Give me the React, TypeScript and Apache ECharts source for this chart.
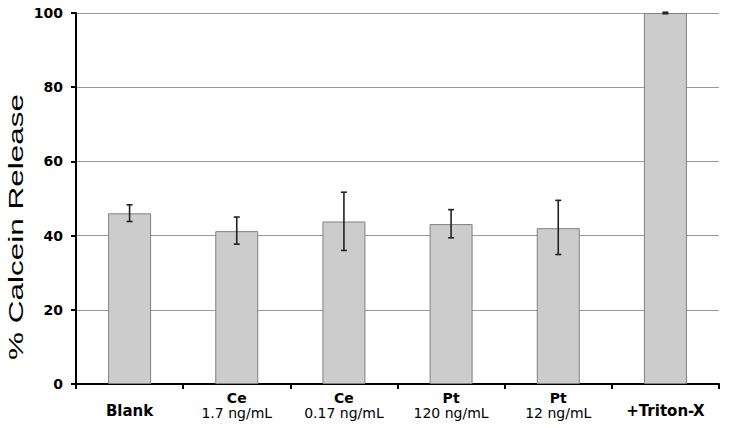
import React, { useEffect, useRef } from "react";
import * as echarts from "echarts";

const categories = ["Blank", "Ce|1.7 ng/mL", "Ce|0.17 ng/mL", "Pt|120 ng/mL", "Pt|12 ng/mL", "+Triton-X"];
const means = [46.0, 41.2, 43.8, 43.1, 42.0, 100];
const errLow = [43.8, 37.7, 36.0, 39.4, 34.9, 99.8];
const errHigh = [48.3, 45.0, 51.7, 47.0, 49.5, 100.2];
const yTicks = [0, 20, 40, 60, 80, 100];

export default function App() {
  const ref = useRef<HTMLDivElement>(null);
  useEffect(() => {
    document.body.style.margin = "0";
    const chart = echarts.init(ref.current!, null, { renderer: "svg" });
    const errData = categories.map((_, i) => [i, errLow[i], errHigh[i]]);
    chart.setOption({
      animation: false,
      backgroundColor: "#ffffff",
      grid: { left: 76, right: 10, top: 13, bottom: 44 },
      xAxis: {
        type: "category",
        data: categories,
        axisLine: { lineStyle: { color: "#000", width: 2 } },
        axisTick: { show: true, length: 5, lineStyle: { color: "#000", width: 2 }, interval: 0 },
        axisLabel: {
          interval: 0,
          margin: 6,
          color: "#000",
          formatter: (v: string) => {
            if (v.indexOf("|") < 0) return "{b|" + v + "}";
            const [a, b] = v.split("|");
            return "{h|" + a + "}\n{s|" + b + "}";
          },
          rich: {
            b: { fontFamily: "DejaVu Sans", fontWeight: "bold", fontSize: 15, lineHeight: 42, color: "#000" },
            h: { fontFamily: "DejaVu Sans", fontWeight: "bold", fontSize: 14, lineHeight: 15, color: "#000" },
            s: { fontFamily: "DejaVu Sans", fontSize: 14, lineHeight: 15, color: "#000" },
          },
        },
      },
      yAxis: {
        type: "value",
        min: yTicks[0],
        max: yTicks[yTicks.length - 1],
        interval: 20,
        axisLine: { show: true, lineStyle: { color: "#000", width: 2 } },
        axisTick: { show: true, length: 5, lineStyle: { color: "#000", width: 2 } },
        axisLabel: { margin: 13, color: "#000", fontFamily: "DejaVu Sans", fontWeight: "bold", fontSize: 14 },
        splitLine: { lineStyle: { color: "#999", width: 1 } },
      },
      graphic: [
        {
          type: "text",
          x: 16,
          y: 227,
          rotation: Math.PI / 2,
          scaleX: 1.5,
          style: {
            text: "% Calcein Release",
            font: '21px "Liberation Sans"',
            fill: "#000",
            align: "center",
            verticalAlign: "middle",
            textAlign: "center",
            textVerticalAlign: "middle",
          },
        },
      ],
      series: [
        {
          type: "bar",
          data: means,
          barWidth: 43,
          itemStyle: { color: "#cccccc", borderColor: "#808080", borderWidth: 1 },
          z: 2,
        },
        {
          type: "custom",
          data: errData,
          z: 5,
          renderItem: (params: any, api: any) => {
            const i = api.value(0);
            const lo = api.coord([i, api.value(1)]);
            const hi = api.coord([i, api.value(2)]);
            const x = lo[0];
            const cw = 3;
            const st = { stroke: "#222", lineWidth: 1.6 };
            return {
              type: "group",
              children: [
                { type: "line", shape: { x1: x, y1: lo[1], x2: x, y2: hi[1] }, style: st },
                { type: "line", shape: { x1: x - cw, y1: lo[1], x2: x + cw, y2: lo[1] }, style: st },
                { type: "line", shape: { x1: x - cw, y1: hi[1], x2: x + cw, y2: hi[1] }, style: st },
              ],
            };
          },
        },
      ],
    });
    return () => chart.dispose();
  }, []);
  return <div ref={ref} style={{ width: 729, height: 428 }} />;
}
